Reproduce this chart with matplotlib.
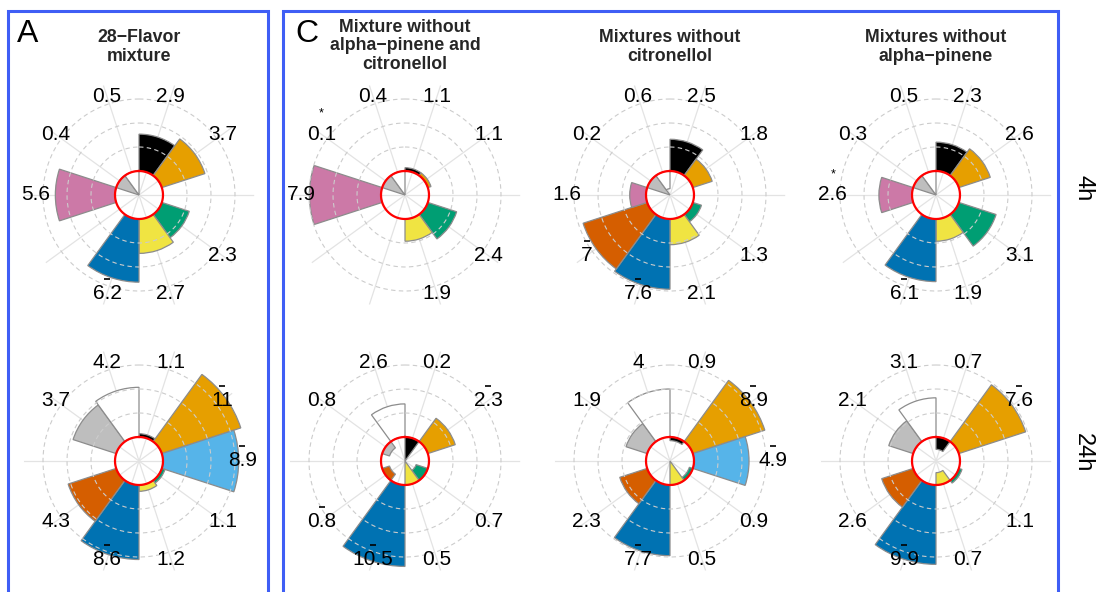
import numpy as np
import matplotlib.pyplot as plt
from matplotlib.patches import Rectangle
from matplotlib.transforms import offset_copy

plt.rcParams['font.family'] = ['Liberation Sans', 'DejaVu Sans']

# sectors, clockwise from 12 o'clock
colours = ['#000000', '#E69F00', '#56B4E9', '#009E73', '#F0E442',
           '#0072B2', '#D55E00', '#CC79A7', '#BEBEBE', '#FFFFFF']
nan = np.nan

# fold changes per panel (nan = flavour not in the mixture)
a_4h = [2.9, 3.7, nan, 2.3, 2.7, 6.2, nan, 5.6, 0.4, 0.5]
a_24h = [1.1, 11, 8.9, 1.1, 1.2, 8.6, 4.3, nan, 3.7, 4.2]
c1_4h = [1.1, 1.1, nan, 2.4, 1.9, nan, nan, 7.9, 0.1, 0.4]
c1_24h = [0.2, 2.3, nan, 0.7, 0.5, 10.5, 0.8, nan, 0.8, 2.6]
c2_4h = [2.5, 1.8, nan, 1.3, 2.1, 7.6, 7.0, 1.6, 0.2, 0.6]
c2_24h = [0.9, 8.9, 4.9, 0.9, 0.5, 7.7, 2.3, nan, 1.9, 4.0]
c3_4h = [2.3, 2.6, nan, 3.1, 1.9, 6.1, nan, 2.6, 0.3, 0.5]
c3_24h = [0.7, 7.6, nan, 1.1, 0.7, 9.9, 2.6, nan, 2.1, 3.1]

# which labels carry a bar / a star above them
a_4h_bar, a_4h_star = [5], []
a_24h_bar, a_24h_star = [1, 2, 5], []
c1_4h_bar, c1_4h_star = [], [8]
c1_24h_bar, c1_24h_star = [1, 5, 6], []
c2_4h_bar, c2_4h_star = [5, 6], []
c2_24h_bar, c2_24h_star = [1, 2, 5], []
c3_4h_bar, c3_4h_star = [5], [7]
c3_24h_bar, c3_24h_star = [1, 5], []

titles = ['28\u2212Flavor\nmixture',
          'Mixture without\nalpha\u2212pinene and\ncitronellol',
          'Mixtures without\ncitronellol',
          'Mixtures without\nalpha\u2212pinene']

W, H = 1097, 592
fig = plt.figure(figsize=(W / 100, H / 100), dpi=100)

PX = 24        # pixels per log2 unit
R_MAX = 3.8
R_LAB = 3.3
col_x = [139, 405, 670, 936]
row_y = [195, 461]

theta = np.deg2rad(18 + 36 * np.arange(10))
width = np.deg2rad(36)
tt = np.linspace(0, 2 * np.pi, 400)


def wheel(cx, cy, vals, bars, stars):
    R = (R_MAX + 1) * PX
    ax = fig.add_axes([(cx - R) / W, (H - cy - R) / H, 2 * R / W, 2 * R / H],
                      projection='polar')
    ax.set_theta_zero_location('N')
    ax.set_theta_direction(-1)
    ax.set_ylim(-1, R_MAX)
    ax.set_axis_off()

    for t in theta:
        ax.plot([t, t], [-1, R_MAX], color='#e3e3e3', lw=0.9, zorder=1)

    v = np.array(vals, dtype=float)
    ok = ~np.isnan(v)
    h = np.clip(np.log2(v[ok]), -1, None)
    ax.bar(theta[ok], h, width=width, bottom=0,
           color=[c for c, k in zip(colours, ok) if k],
           edgecolor='#8c8c8c', lw=0.9, zorder=2)

    for r in [1, 2, 3]:
        ax.plot(tt, np.full_like(tt, r), color='#cccccc', lw=0.8,
                ls=(0, (4, 3)), zorder=3)
    ax.plot(tt, np.zeros_like(tt), color='red', lw=1.6, zorder=4)

    above = offset_copy(ax.transData, fig=fig, x=0, y=10.5, units='points')
    for i in range(10):
        if np.isnan(v[i]):
            continue
        ax.text(theta[i], R_LAB, f'{v[i]:g}', ha='center', va='center',
                fontsize=15, zorder=5)
        if i in bars:
            ax.plot([theta[i]], [R_LAB], marker='_', ms=5, mew=1.2,
                    color='black', transform=above, clip_on=False, zorder=5)
        if i in stars:
            ax.annotate('*', (theta[i], R_LAB), xytext=(0, 15),
                        textcoords='offset points', ha='center', va='center',
                        fontsize=9, annotation_clip=False)


panels = [(a_4h, a_4h_bar, a_4h_star), (c1_4h, c1_4h_bar, c1_4h_star),
          (c2_4h, c2_4h_bar, c2_4h_star), (c3_4h, c3_4h_bar, c3_4h_star),
          (a_24h, a_24h_bar, a_24h_star), (c1_24h, c1_24h_bar, c1_24h_star),
          (c2_24h, c2_24h_bar, c2_24h_star), (c3_24h, c3_24h_bar, c3_24h_star)]

for n, (vals, bars, stars) in enumerate(panels):
    wheel(col_x[n % 4], row_y[n // 4], vals, bars, stars)

title_y = [47, 46, 47, 47]
for x, y, t in zip(col_x, title_y, titles):
    fig.text(x / W, 1 - y / H, t, ha='center', va='center', fontsize=12.8,
             fontweight='bold', color='#262626', linespacing=1.12)

fig.text(28 / W, 1 - 34 / H, 'A', ha='center', va='center', fontsize=23)
fig.text(307 / W, 1 - 34 / H, 'C', ha='center', va='center', fontsize=23)
fig.text(1083 / W, 1 - 188 / H, '4h', ha='center', va='center', fontsize=17,
         rotation=-90)
fig.text(1083 / W, 1 - 453 / H, '24h', ha='center', va='center', fontsize=17,
         rotation=-90)

for x0, x1 in [(8, 268), (283, 1058)]:
    fig.add_artist(Rectangle((x0 / W, -0.1), (x1 - x0) / W, 1.1 - 11 / H,
                             transform=fig.transFigure, fill=False,
                             edgecolor='#3f5ef5', lw=2.2))

fig.savefig('out.png', dpi=100)
